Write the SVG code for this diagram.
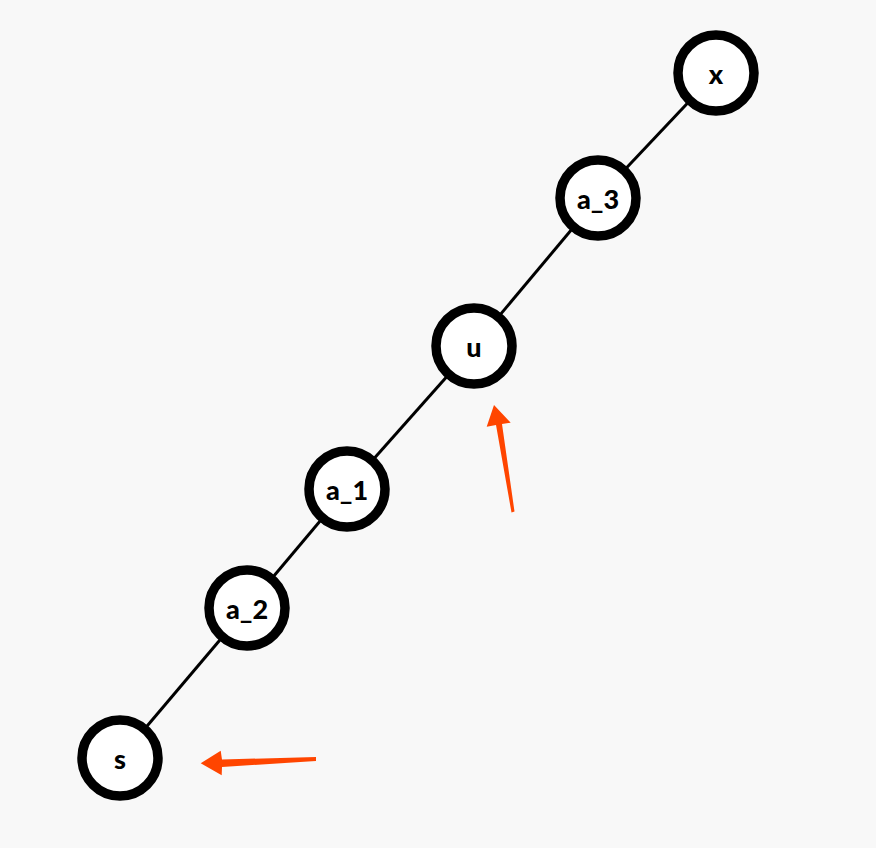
<svg xmlns="http://www.w3.org/2000/svg" width="876" height="848" viewBox="0 0 876 848">
<style>
.edge{stroke:#000;stroke-width:3;fill:none}
.node circle{fill:#fff;stroke:#000;stroke-width:9.5}
.node text{font-family:Lato,"Open Sans","Liberation Sans",sans-serif;font-weight:900;font-size:27px;fill:#000;text-anchor:middle;dominant-baseline:central}
.mark{fill:#ff4500}
</style>
<rect width="876" height="848" fill="#f8f8f8"/>
<g id="edges">
<line class="edge" x1="716" y1="73" x2="598" y2="198"/>
<line class="edge" x1="598" y1="198" x2="474" y2="346"/>
<line class="edge" x1="474" y1="346" x2="347" y2="489"/>
<line class="edge" x1="347" y1="489" x2="247" y2="608"/>
<line class="edge" x1="247" y1="608" x2="120" y2="758"/>
</g>
<g id="node-x" class="node"><circle cx="716" cy="73" r="38"/><text x="716" y="73">x</text></g>
<g id="node-a3" class="node"><circle cx="598" cy="198" r="38"/><text x="598" y="198">a_3</text></g>
<g id="node-u" class="node"><circle cx="474" cy="346" r="38"/><text x="474" y="346">u</text></g>
<g id="node-a1" class="node"><circle cx="347" cy="489" r="38"/><text x="347" y="489">a_1</text></g>
<g id="node-a2" class="node"><circle cx="247" cy="608" r="38"/><text x="247" y="608">a_2</text></g>
<g id="node-s" class="node"><circle cx="120" cy="758" r="38"/><text x="120" y="758">s</text></g>
<g id="marks">
<polygon class="mark" points="511.5,512.5 514.5,511.5 502,424 510.7,422.7 494,405 486.7,426.7 496,425"/>
<polygon class="mark" points="316,757 222,759.5 220.7,750.7 200.7,763.3 221.7,775.3 222,767 316,761"/>
</g>
</svg>
